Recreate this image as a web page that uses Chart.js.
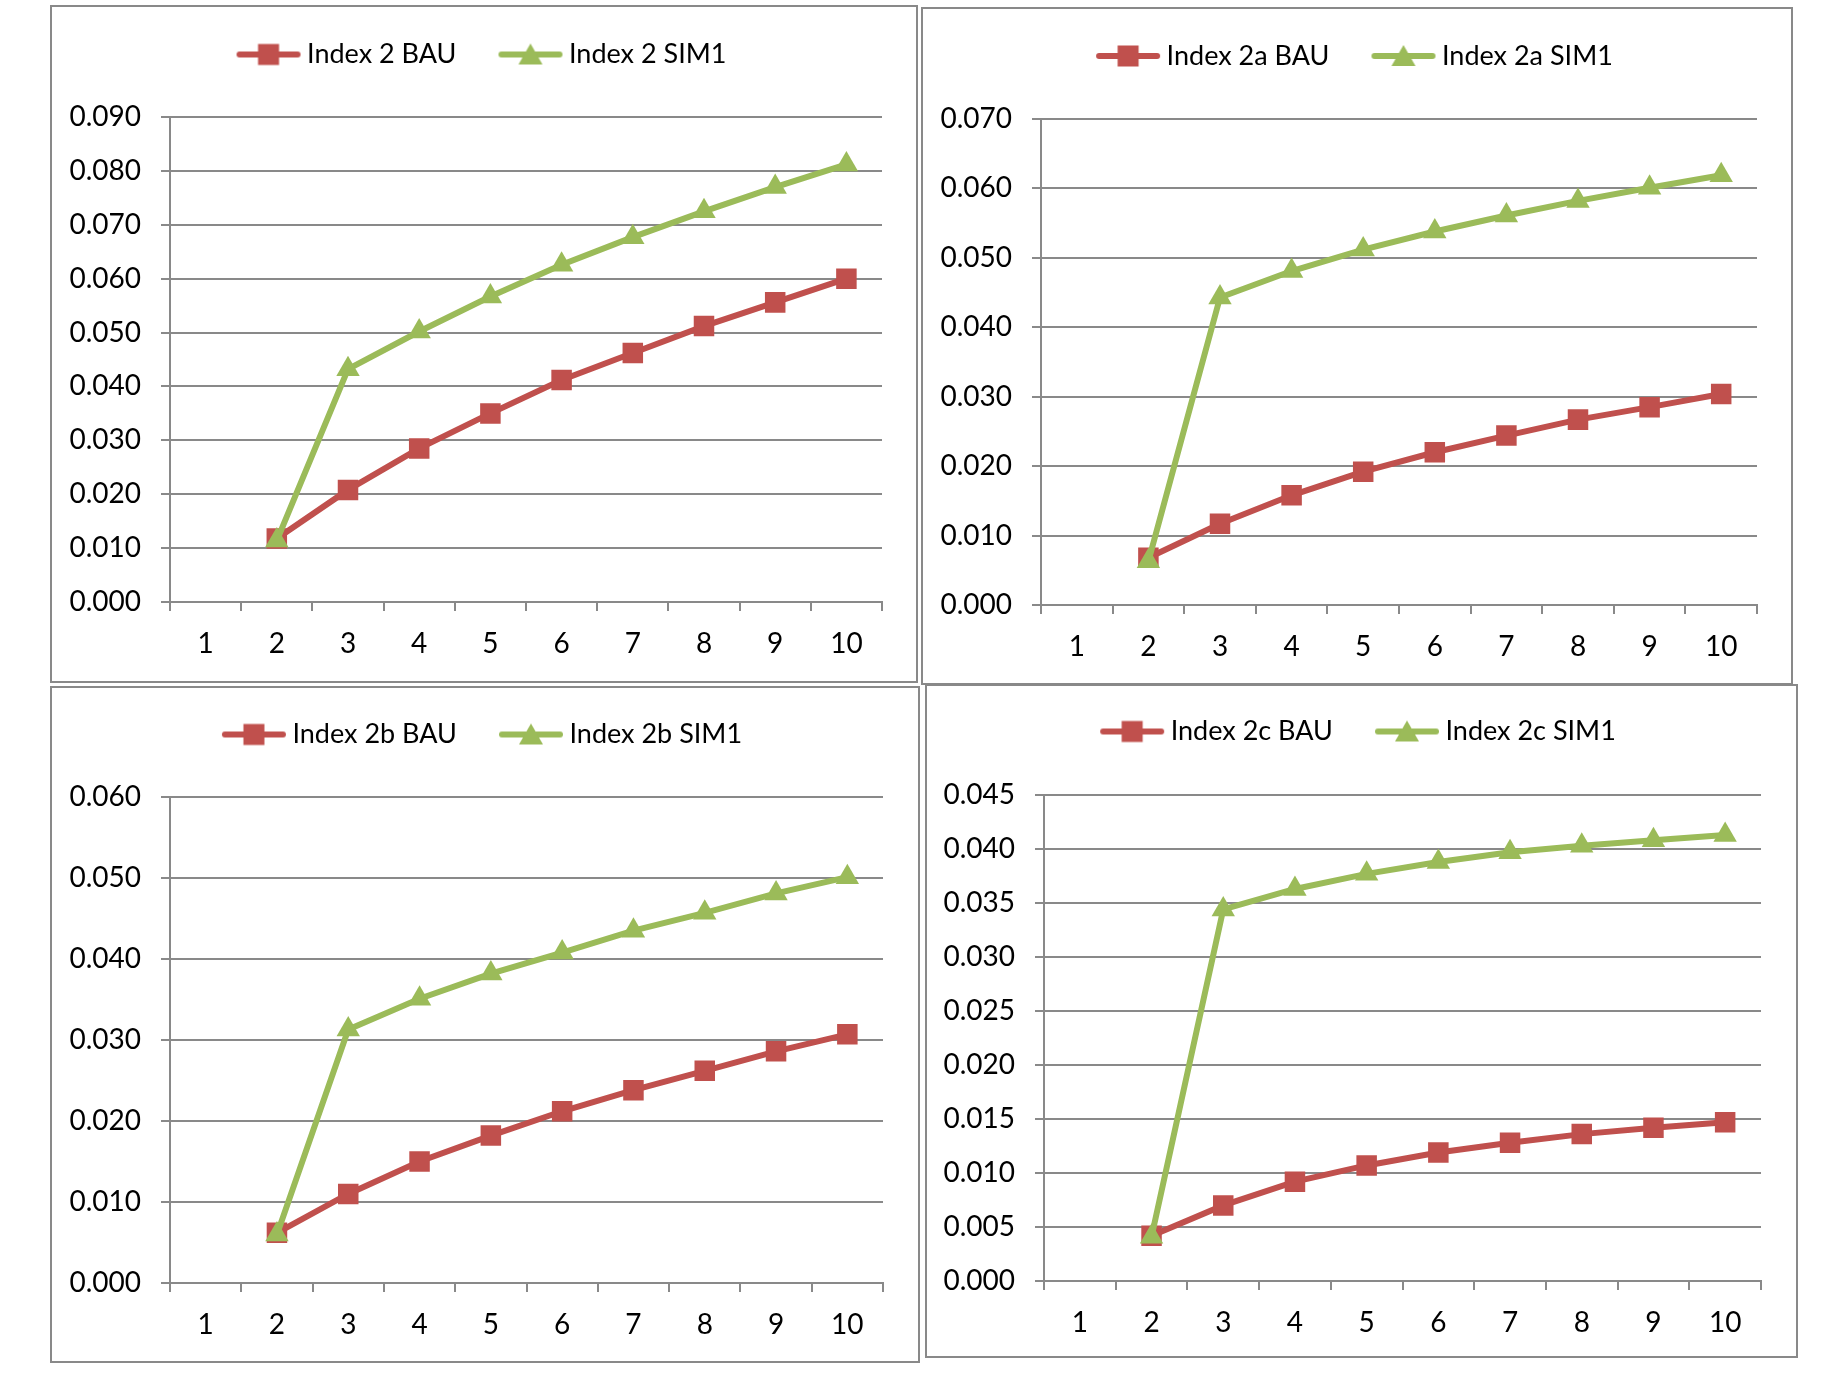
<!DOCTYPE html>
<html>
<head>
<meta charset="utf-8">
<script src="https://cdn.jsdelivr.net/npm/chart.js@4.4.0/dist/chart.umd.min.js"></script>
<style>
  body { margin: 0; background: #fff; width: 1832px; height: 1375px; position: relative; overflow: hidden; }
  .panel { position: absolute; border: 2px solid #898989; box-sizing: border-box; background: #fff; }
  .panel canvas { position: absolute; left: 0; top: 0; }
</style>
</head>
<body>
<div class="panel" id="p1"><canvas id="c1"></canvas></div>
<div class="panel" id="p2"><canvas id="c2"></canvas></div>
<div class="panel" id="p3"><canvas id="c3"></canvas></div>
<div class="panel" id="p4"><canvas id="c4"></canvas></div>
<script>
// categories (year 1 has no value)
const categories = ['1', '2', '3', '4', '5', '6', '7', '8', '9', '10'];

const index2Bau   = [null, 0.0118, 0.0208, 0.0285, 0.0350, 0.0412, 0.0462, 0.0512, 0.0556, 0.0600];
const index2Sim1  = [null, 0.0114, 0.0432, 0.0502, 0.0567, 0.0626, 0.0677, 0.0725, 0.0770, 0.0812];

const index2aBau  = [null, 0.0068, 0.0117, 0.0158, 0.0192, 0.0220, 0.0244, 0.0267, 0.0285, 0.0304];
const index2aSim1 = [null, 0.0063, 0.0443, 0.0481, 0.0512, 0.0538, 0.0561, 0.0582, 0.0601, 0.0619];

const index2bBau  = [null, 0.0062, 0.0110, 0.0150, 0.0182, 0.0212, 0.0238, 0.0262, 0.0286, 0.0307];
const index2bSim1 = [null, 0.0060, 0.0313, 0.0351, 0.0382, 0.0408, 0.0435, 0.0457, 0.0481, 0.0501];

const index2cBau  = [null, 0.0042, 0.0070, 0.0092, 0.0107, 0.0119, 0.0128, 0.0136, 0.0142, 0.0147];
const index2cSim1 = [null, 0.0041, 0.0344, 0.0363, 0.0377, 0.0388, 0.0397, 0.0403, 0.0408, 0.0413];

// y axis: [max, step]
const index2Axis  = [0.090, 0.010];
const index2aAxis = [0.070, 0.010];
const index2bAxis = [0.060, 0.010];
const index2cAxis = [0.045, 0.005];

const RED = '#C0504D';
const GREEN = '#9BBB59';
const GRAY = '#898989';
const FONT = 'Lato, "Liberation Sans", sans-serif';
const LEG_FONT = 27;
const TICK_FONT = 28;

const Y_W = 100;   // y axis box width
const X_H = 62;    // x axis box height
const LEG_PAD = 31;
const LEG_BOX = 68;

// legend icon: line with marker, like Excel
function legendIcon(color, shape) {
  const c = document.createElement('canvas');
  c.width = LEG_BOX + 16;
  c.height = 26;
  const g = c.getContext('2d');
  const x0 = c.width - 65, x1 = c.width - 1, mx = c.width - 33, my = 13;
  g.strokeStyle = color;
  g.lineWidth = 6;
  g.lineCap = 'round';
  g.beginPath(); g.moveTo(x0 + 3, my); g.lineTo(x1 - 3, my); g.stroke();
  g.fillStyle = color;
  if (shape === 'rect') {
    g.fillRect(mx - 10.5, my - 10.5, 21, 21);
  } else {
    g.beginPath();
    g.moveTo(mx, my - 11); g.lineTo(mx + 12, my + 10); g.lineTo(mx - 12, my + 10);
    g.closePath(); g.fill();
  }
  return c;
}
const redIcon = legendIcon(RED, 'rect');
const greenIcon = legendIcon(GREEN, 'triangle');

function makeChart(cfg) {
  const panel = document.getElementById('p' + cfg.n);
  const [left, top, w, h] = cfg.box;
  panel.style.left = left + 'px';
  panel.style.top = top + 'px';
  panel.style.width = w + 'px';
  panel.style.height = h + 'px';
  const cx = left + 2, cy = top + 2, cw = w - 4, ch = h - 4;
  const canvas = document.getElementById('c' + cfg.n);
  canvas.width = cw;
  canvas.height = ch;

  const [al, at, ar, ab] = cfg.area;
  const pad = {
    left: al - cx - Y_W,
    right: cw - (ar - cx),
    bottom: ch - (ab - cy) - X_H,
    top: cfg.legendY - cy - (LEG_PAD + LEG_FONT / 2)
  };
  const legendHeight = LEG_FONT + LEG_PAD + 10;
  const extra = (at - cy) - pad.top - legendHeight;

  const legendGap = {
    id: 'legendGap',
    beforeInit(chart) {
      const fit = chart.legend.fit;
      chart.legend.fit = function () {
        fit.call(this);
        this.height += extra;
      };
    }
  };

  new Chart(canvas, {
    type: 'line',
    data: {
      labels: categories,
      datasets: [{
        label: cfg.names[0],
        data: cfg.bau,
        borderColor: RED,
        backgroundColor: RED,
        borderWidth: 6,
        pointStyle: 'rect',
        pointRadius: 14.5,
        pointBackgroundColor: RED,
        pointBorderColor: RED,
        pointBorderWidth: 0,
        order: 1
      }, {
        label: cfg.names[1],
        data: cfg.sim,
        borderColor: GREEN,
        backgroundColor: GREEN,
        borderWidth: 6,
        pointStyle: 'triangle',
        pointRadius: 13.5,
        pointBackgroundColor: GREEN,
        pointBorderColor: GREEN,
        pointBorderWidth: 0,
        order: 0
      }]
    },
    options: {
      responsive: false,
      animation: false,
      layout: { padding: pad },
      plugins: {
        title: { display: false },
        tooltip: { enabled: false },
        legend: {
          position: 'top',
          labels: {
            usePointStyle: true,
            pointStyleWidth: LEG_BOX,
            padding: LEG_PAD,
            color: '#000',
            font: { family: FONT, size: LEG_FONT },
            sort: (a, b) => a.datasetIndex - b.datasetIndex,
            generateLabels(chart) {
              const items = Chart.defaults.plugins.legend.labels.generateLabels(chart);
              items.forEach(it => { it.pointStyle = it.datasetIndex === 0 ? redIcon : greenIcon; });
              return items;
            }
          }
        }
      },
      scales: {
        x: {
          offset: true,
          ticks: { color: '#000', font: { family: FONT, size: TICK_FONT }, padding: 16, maxRotation: 0, autoSkip: false },
          grid: { offset: true, drawOnChartArea: false, drawTicks: true, tickLength: 9, color: GRAY, lineWidth: 2 },
          border: { color: GRAY, width: 2 },
          afterFit: s => { s.height = X_H; }
        },
        y: {
          min: 0,
          max: cfg.axis[0],
          ticks: {
            stepSize: cfg.axis[1],
            color: '#000',
            font: { family: FONT, size: TICK_FONT },
            padding: 20,
            callback: v => v.toFixed(3)
          },
          grid: { color: GRAY, lineWidth: 2, tickLength: 9 },
          border: { color: GRAY, width: 2 },
          afterFit: s => { s.width = Y_W; }
        }
      }
    },
    plugins: [legendGap]
  });
}

makeChart({ n: 1, box: [50, 5, 868, 678], area: [170, 117, 882, 602], legendY: 54.5,
  names: ['Index 2 BAU', 'Index 2 SIM1'], bau: index2Bau, sim: index2Sim1, axis: index2Axis });
makeChart({ n: 2, box: [921, 7, 872, 678], area: [1041, 119, 1757, 605], legendY: 56,
  names: ['Index 2a BAU', 'Index 2a SIM1'], bau: index2aBau, sim: index2aSim1, axis: index2aAxis });
makeChart({ n: 3, box: [50, 686, 870, 677], area: [170, 797, 883, 1283], legendY: 734.5,
  names: ['Index 2b BAU', 'Index 2b SIM1'], bau: index2bBau, sim: index2bSim1, axis: index2bAxis });
makeChart({ n: 4, box: [925, 684, 873, 674], area: [1044, 795, 1761, 1281], legendY: 731.5,
  names: ['Index 2c BAU', 'Index 2c SIM1'], bau: index2cBau, sim: index2cSim1, axis: index2cAxis });
</script>
</body>
</html>
